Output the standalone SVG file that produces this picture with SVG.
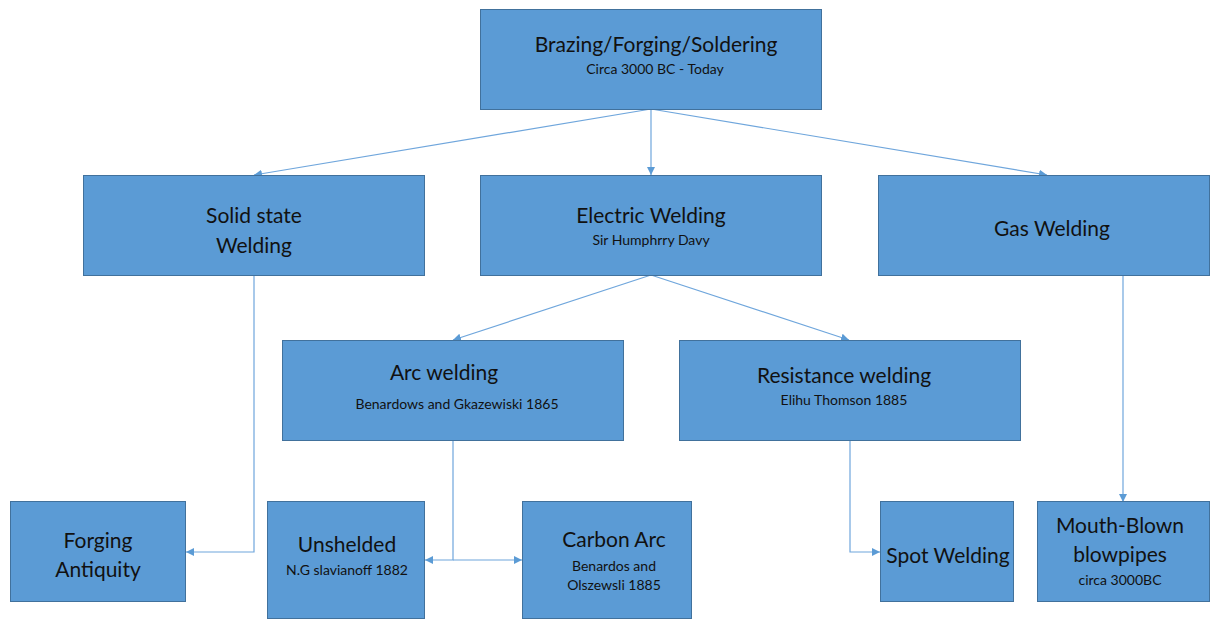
<svg xmlns="http://www.w3.org/2000/svg" width="1210" height="619" viewBox="0 0 1210 619">
<style>
.box{fill:#5b9bd5;stroke:#41719c;stroke-width:1}
.t{font-family:Lato,"Liberation Sans",sans-serif;fill:#111;text-anchor:middle}
.big{font-size:21px}
.sm{font-size:14px}
.c{fill:none;stroke:#6fa6dc;stroke-width:1.2}
</style>
<defs>
<marker id="ah" viewBox="0 0 10 10" refX="10" refY="5" markerWidth="8" markerHeight="8" markerUnits="userSpaceOnUse" orient="auto">
<path d="M0,0 L10,5 L0,10 z" fill="#5b9bd5"/>
</marker>
</defs>
<rect width="1210" height="619" fill="#fff"/>
<g id="connectors">
<line class="c" x1="651" y1="109" x2="254" y2="175" marker-end="url(#ah)"/>
<line class="c" x1="651" y1="109" x2="651" y2="175" marker-end="url(#ah)"/>
<line class="c" x1="651" y1="109" x2="1047" y2="175" marker-end="url(#ah)"/>
<line class="c" x1="651" y1="275" x2="453" y2="340" marker-end="url(#ah)"/>
<line class="c" x1="651" y1="275" x2="849" y2="340" marker-end="url(#ah)"/>
<polyline class="c" points="254,275 254,552 186,552" marker-end="url(#ah)"/>
<polyline class="c" points="453,440 453,560 425,560" marker-end="url(#ah)"/>
<polyline class="c" points="453,560 522,560" marker-end="url(#ah)"/>
<polyline class="c" points="850,440 850,552 880,552" marker-end="url(#ah)"/>
<line class="c" x1="1123" y1="275" x2="1123" y2="502" marker-end="url(#ah)"/>
</g>
<g id="n-top"><rect class="box" x="480.5" y="9.5" width="341" height="100"/>
<text class="t big" x="656" y="52">Brazing/Forging/Soldering</text>
<text class="t sm" x="655" y="74">Circa 3000 BC - Today</text></g>
<g id="n-solid"><rect class="box" x="83.5" y="175.5" width="341" height="100"/>
<text class="t big" x="254" y="223">Solid state</text>
<text class="t big" x="254" y="253">Welding</text></g>
<g id="n-electric"><rect class="box" x="480.5" y="175.5" width="341" height="100"/>
<text class="t big" x="651" y="223">Electric Welding</text>
<text class="t sm" x="651" y="245">Sir Humphrry Davy</text></g>
<g id="n-gas"><rect class="box" x="878.5" y="175.5" width="331" height="100"/>
<text class="t big" x="1052" y="236">Gas Welding</text></g>
<g id="n-arc"><rect class="box" x="282.5" y="340.5" width="341" height="100"/>
<text class="t big" x="444" y="380">Arc welding</text>
<text class="t sm" x="457" y="409">Benardows and Gkazewiski 1865</text></g>
<g id="n-resistance"><rect class="box" x="679.5" y="340.5" width="341" height="100"/>
<text class="t big" x="844" y="383">Resistance welding</text>
<text class="t sm" x="844" y="405">Elihu Thomson 1885</text></g>
<g id="n-forging"><rect class="box" x="10.5" y="501.5" width="175" height="100"/>
<text class="t big" x="98" y="548">Forging</text>
<text class="t big" x="98" y="577">Antiquity</text></g>
<g id="n-unshelded"><rect class="box" x="267.5" y="501.5" width="157" height="117"/>
<text class="t big" x="347" y="552">Unshelded</text>
<text class="t sm" x="347" y="575">N.G slavianoff 1882</text></g>
<g id="n-carbon"><rect class="box" x="522.5" y="501.5" width="169" height="117"/>
<text class="t big" x="614" y="547">Carbon Arc</text>
<text class="t sm" x="614" y="571">Benardos and</text>
<text class="t sm" x="614" y="590">Olszewsli 1885</text></g>
<g id="n-spot"><rect class="box" x="880.5" y="501.5" width="133" height="100"/>
<text class="t big" x="948" y="563">Spot Welding</text></g>
<g id="n-mouth"><rect class="box" x="1037.5" y="501.5" width="172" height="100"/>
<text class="t big" x="1120" y="533">Mouth-Blown</text>
<text class="t big" x="1120" y="562">blowpipes</text>
<text class="t sm" x="1120" y="585">circa 3000BC</text></g>
</svg>
